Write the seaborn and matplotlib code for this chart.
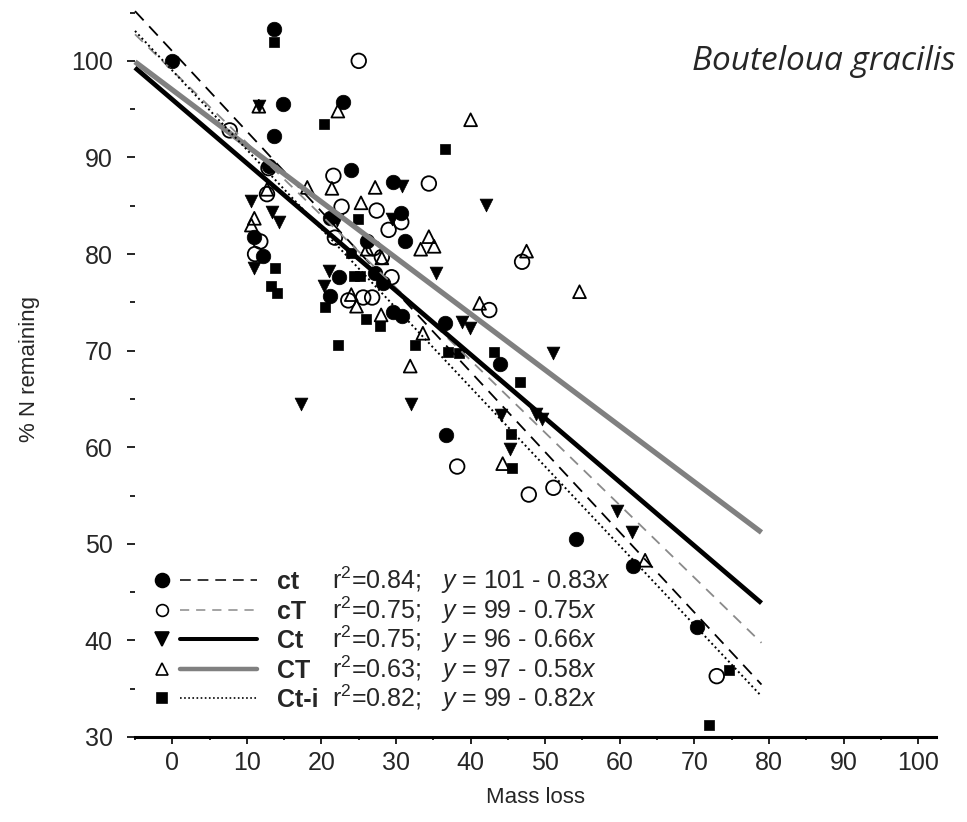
import matplotlib
matplotlib.use("Agg")
import matplotlib.pyplot as plt
from matplotlib.lines import Line2D
from matplotlib.legend_handler import HandlerTuple
import seaborn as sns
import pandas as pd

# datos: % N remanente vs perdida de masa
ct_x = [0, 13.7, 14.8, 22.9, 13.7, 12.9, 24.0, 29.6, 21.1, 26.1, 11.0, 30.6, 31.2,
        12.1, 27.2, 28.3, 22.3, 21.1, 29.6, 30.8, 36.6, 44.0, 36.7, 54.1, 61.8, 70.3]
ct_y = [100, 103.3, 95.5, 95.7, 92.2, 89.1, 88.7, 87.5, 83.7, 81.3, 81.8, 84.3, 81.3,
        79.8, 78.0, 77.0, 77.6, 75.7, 74.0, 73.6, 72.9, 68.6, 61.3, 50.5, 47.7, 41.4]

cT_x = [25.0, 7.7, 12.9, 21.6, 12.7, 22.7, 27.4, 29.0, 11.8, 21.8, 34.4, 30.7, 11.1,
        27.0, 28.1, 29.4, 23.6, 25.6, 26.8, 46.9, 42.5, 38.2, 47.8, 51.1, 73.0]
cT_y = [100, 92.8, 88.9, 88.1, 86.2, 84.9, 84.5, 82.5, 81.3, 81.7, 87.3, 83.3, 80.0,
        80.6, 79.7, 77.6, 75.2, 75.5, 75.5, 79.2, 74.2, 58.0, 55.1, 55.8, 36.3]

Ct_x = [11.6, 10.5, 13.4, 14.3, 29.4, 30.8, 35.3, 10.9, 21.0, 20.3, 38.8, 39.9,
        51.0, 17.2, 32.0, 44.1, 48.7, 49.6, 45.3, 59.6, 61.7, 42.0, 22.1]
Ct_y = [95.3, 85.5, 84.4, 83.3, 83.6, 87.0, 78.0, 78.6, 78.2, 76.7, 73.0, 72.3,
        69.8, 64.5, 64.5, 63.3, 63.4, 62.9, 59.8, 53.4, 51.2, 85.1, 83.5]

CT_x = [11.6, 22.2, 12.7, 18.1, 21.4, 27.2, 25.3, 11.0, 10.6, 34.4, 33.3, 35.1, 26.1,
        28.1, 24.0, 24.7, 28.0, 33.6, 31.9, 47.5, 41.2, 44.3, 54.6, 63.4, 40.0]
CT_y = [95.3, 94.8, 86.7, 86.9, 86.8, 86.9, 85.3, 83.7, 83.0, 81.8, 80.5, 80.8, 80.5,
        79.6, 75.8, 74.6, 73.7, 71.8, 68.4, 80.3, 74.9, 58.3, 76.1, 48.3, 93.9]

Cti_x = [0, 13.7, 20.4, 24.9, 36.5, 13.8, 13.2, 14.0, 23.9, 24.3, 25.2, 20.5, 26.0,
         27.9, 22.2, 32.5, 37.0, 38.4, 43.2, 46.6, 45.4, 45.6, 74.7, 72.0]
Cti_y = [100, 102.0, 93.5, 83.6, 90.9, 78.6, 76.7, 76.0, 80.1, 77.7, 77.7, 74.5, 73.3,
         72.5, 70.6, 70.6, 69.9, 69.8, 69.9, 66.8, 61.4, 57.9, 36.9, 31.2]

# regresiones
names = ["ct", "cT", "Ct", "CT", "Ct-i"]
r2 = ["0.84", "0.75", "0.75", "0.63", "0.82"]
intercepts = [101, 99, 96, 97, 99]
slopes = [0.83, 0.75, 0.66, 0.58, 0.82]
line_x = [-5, 79]

# tabla larga para seaborn
frames = []
for nm, xs, ys in zip(names, [ct_x, cT_x, Ct_x, CT_x, Cti_x], [ct_y, cT_y, Ct_y, CT_y, Cti_y]):
    frames.append(pd.DataFrame({"Mass loss": xs, "N": ys, "trat": nm}))
df = pd.concat(frames, ignore_index=True)

# estilos por tratamiento (ms_leg = tamaño del marcador en la leyenda)
estilo = {
    "ct":   dict(marker="o", s=110, fill=True,  color="black",   lw=1.3, ls=(0, (7, 4.5)), ms_leg=10),
    "cT":   dict(marker="o", s=110, fill=False, color="#8a8a8a", lw=1.3, ls=(0, (6, 4.5)), ms_leg=8.5),
    "Ct":   dict(marker="v", s=85,  fill=True,  color="black",   lw=3.4, ls="-", ms_leg=9.5),
    "CT":   dict(marker="^", s=85,  fill=False, color="#808080", lw=3.8, ls="-", ms_leg=8.5),
    "Ct-i": dict(marker="s", s=55,  fill=True,  color="black",   lw=1.4, ls=(0, (1, 1.5)), ms_leg=7.5),
}

sns.set_theme(style="white")
plt.rcParams["font.family"] = ["Liberation Sans", "DejaVu Sans"]
plt.rcParams["mathtext.fontset"] = "custom"
plt.rcParams["mathtext.rm"] = "Liberation Sans"
plt.rcParams["mathtext.it"] = "Liberation Sans:italic"
plt.rcParams["mathtext.bf"] = "Liberation Sans:bold"

fig = plt.figure(figsize=(9.67, 8.22), dpi=100)
ax = fig.add_axes([135 / 967, 1 - 737 / 822, (936 - 135) / 967, 737 / 822])

for nm in names:
    st = estilo[nm]
    sub = df[df["trat"] == nm]
    if st["fill"]:
        sns.scatterplot(data=sub, x="Mass loss", y="N", marker=st["marker"], s=st["s"],
                        color="black", edgecolor="black", linewidth=0.5, ax=ax,
                        legend=False, zorder=2, clip_on=False)
    else:
        sns.scatterplot(data=sub, x="Mass loss", y="N", marker=st["marker"], s=st["s"],
                        facecolor="none", edgecolor="black", linewidth=1.3, ax=ax,
                        legend=False, zorder=2, clip_on=False)

for nm, a, b in zip(names, intercepts, slopes):
    st = estilo[nm]
    yy = [a - b * x for x in line_x]
    ax.plot(line_x, yy, color=st["color"], lw=st["lw"], ls=st["ls"], zorder=3,
            clip_on=False, solid_capstyle="butt")

ax.set_xlim(-5, 102.4)
ax.set_ylim(30, 106.3)
ax.set_xticks(range(0, 101, 10))
ax.set_xticks(range(-5, 100, 10), minor=True)
ax.set_yticks(range(30, 101, 10))
ax.set_yticks(range(35, 106, 10), minor=True)

for side in ["top", "right", "left"]:
    ax.spines[side].set_visible(False)
ax.spines["bottom"].set_linewidth(2.2)
ax.spines["bottom"].set_color("black")

ax.tick_params(axis="y", which="major", left=True, length=6, width=1.2, pad=10,
               labelsize=18, color="black", direction="out")
ax.tick_params(axis="y", which="minor", left=True, length=3.5, width=1.2, color="black",
               direction="out")
ax.tick_params(axis="x", which="major", bottom=True, length=5, width=1.2, pad=5,
               labelsize=18, color="black", direction="out")
ax.tick_params(axis="x", which="minor", bottom=True, length=2.5, width=1.2, color="black",
               direction="out")

ax.set_xlabel("Mass loss", fontsize=16, family=["Liberation Sans Narrow", "Liberation Sans"],
              labelpad=9)
ax.set_ylabel("% N remaining", fontsize=16, family=["Liberation Sans Narrow", "Liberation Sans"])
ax.yaxis.set_label_coords(-0.118, 0.5)

fig.text(956 / 967, 1 - 70 / 822, "Bouteloua gracilis", fontsize=24, style="italic",
         family=["Open Sans", "DejaVu Sans"], ha="right", va="baseline")

# leyenda: marcador + linea, nombre en negrita
handles = []
for nm in names:
    st = estilo[nm]
    mk = Line2D([], [], ls="none", marker=st["marker"], markersize=st["ms_leg"],
                markerfacecolor="black" if st["fill"] else "none",
                markeredgecolor="black", markeredgewidth=1.2)
    ln = Line2D([], [], color=st["color"], lw=st["lw"] * 0.85, ls=st["ls"])
    handles.append((mk, ln))

fs_leg = 18
leg = ax.legend(handles=handles, labels=names,
                handler_map={tuple: HandlerTuple(ndivide=None, pad=-0.82)},
                loc="upper left", bbox_to_anchor=(123.5 / 967, 1 - 570 / 822),
                bbox_transform=fig.transFigure, frameon=False, handlelength=5.35,
                handletextpad=0.8, labelspacing=0.22, borderpad=0, borderaxespad=0,
                prop={"weight": "bold", "size": fs_leg, "family": "Liberation Sans"})

fig.canvas.draw()
inv = fig.transFigure.inverted()
for t, nm, rr, a, b in zip(leg.get_texts(), names, r2, intercepts, slopes):
    x0, y0 = t.get_transform().transform(t.get_position())
    fx, fy = inv.transform((x0, y0))
    txt = (r"r$^2$=" + rr + r";   $\mathit{y}$ = " + str(a) + " - " + f"{b:.2f}"
           + r"$\mathit{x}$")
    fig.text(332 / 967, fy, txt, fontsize=fs_leg, ha="left", va="baseline")

fig.savefig("out.png", dpi=100)
